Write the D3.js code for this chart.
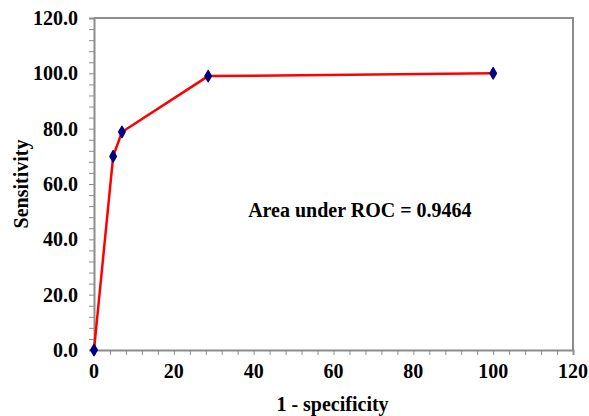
<!DOCTYPE html>
<html lang="en">
<head>
<meta charset="UTF-8">
<title>ROC curve</title>
<style>
  body { margin: 0; background: #fff; }
</style>
</head>
<body>
<svg id="chart" width="589" height="416"></svg>
<script src="https://cdn.jsdelivr.net/npm/d3@7"></script>
<script>
// data
const fpr = [0, 4.8, 7.0, 28.6, 100];       // 1 - specificity
const sens = [0, 70.0, 78.8, 99.0, 100];    // sensitivity
const xTicks = [0, 20, 40, 60, 80, 100, 120];
const yTicks = [0, 20, 40, 60, 80, 100, 120];
const aucLabel = "Area under ROC = 0.9464";

const svg = d3.select('#chart');
const plotL = 94, plotT = 18, plotR = 573, plotB = 350;
const fontSize = 20;
const font = 'Liberation Serif';

const x = d3.scaleLinear().domain([0, 120]).range([plotL, plotR]);
const y = d3.scaleLinear().domain([0, 120]).range([plotB, plotT]);

// frame (top and right sides)
svg.append('path')
    .attr('d', `M${plotL},${plotT}H${plotR}V${plotB}`)
    .attr('fill', 'none')
    .attr('stroke', '#8c8c8c')
    .attr('stroke-width', 2);

// minor ticks every 4 units
const minor = d3.range(0, 121, 4);
const xAxis = svg.append('g').attr('transform', `translate(0,${plotB})`)
    .call(d3.axisBottom(x).tickValues(minor).tickSize(5).tickFormat(''));
const yAxis = svg.append('g').attr('transform', `translate(${plotL},0)`)
    .call(d3.axisLeft(y).tickValues(minor).tickSize(5).tickFormat(''));
[xAxis, yAxis].forEach(g => {
    g.select('.domain').attr('stroke', '#8c8c8c').attr('stroke-width', 2);
    g.selectAll('.tick line').attr('stroke', '#8c8c8c');
});

function label(sel) {
    return sel.attr('font-family', font)
        .attr('font-weight', 'bold')
        .attr('font-size', fontSize)
        .attr('fill', '#000');
}

// tick labels
svg.append('g').selectAll('text')
    .data(xTicks)
    .join('text')
    .call(label)
    .attr('x', d => x(d))
    .attr('y', plotB + 28)
    .attr('text-anchor', 'middle')
    .text(d => d);

svg.append('g').selectAll('text')
    .data(yTicks)
    .join('text')
    .call(label)
    .attr('x', plotL - 16)
    .attr('y', d => y(d) + 7)
    .attr('text-anchor', 'end')
    .text(d => d.toFixed(1));

// axis titles
svg.append('text')
    .call(label)
    .attr('x', (plotL + plotR) / 2 - 1)
    .attr('y', 411)
    .attr('text-anchor', 'middle')
    .text('1 - specificity');

svg.append('text')
    .call(label)
    .attr('transform', `translate(28,${(plotT + plotB) / 2}) rotate(-90)`)
    .attr('text-anchor', 'middle')
    .text('Sensitivity');

// curve
const pts = fpr.map((d, i) => [d, sens[i]]);
svg.append('path')
    .datum(pts)
    .attr('fill', 'none')
    .attr('stroke', '#ff0000')
    .attr('stroke-width', 2.5)
    .attr('d', d3.line().x(d => x(d[0])).y(d => y(d[1])));

svg.append('g').selectAll('path')
    .data(pts)
    .join('path')
    .attr('transform', d => `translate(${x(d[0])},${y(d[1])})`)
    .attr('d', d3.symbol().type(d3.symbolDiamond).size(36))
    .attr('fill', '#000080')
    .attr('stroke', '#000080')
    .attr('stroke-width', 1.5)
    .attr('stroke-linejoin', 'round');

// annotation
svg.append('text')
    .call(label)
    .attr('x', x(66.6))
    .attr('y', 217)
    .attr('text-anchor', 'middle')
    .text(aucLabel);
</script>
</body>
</html>
